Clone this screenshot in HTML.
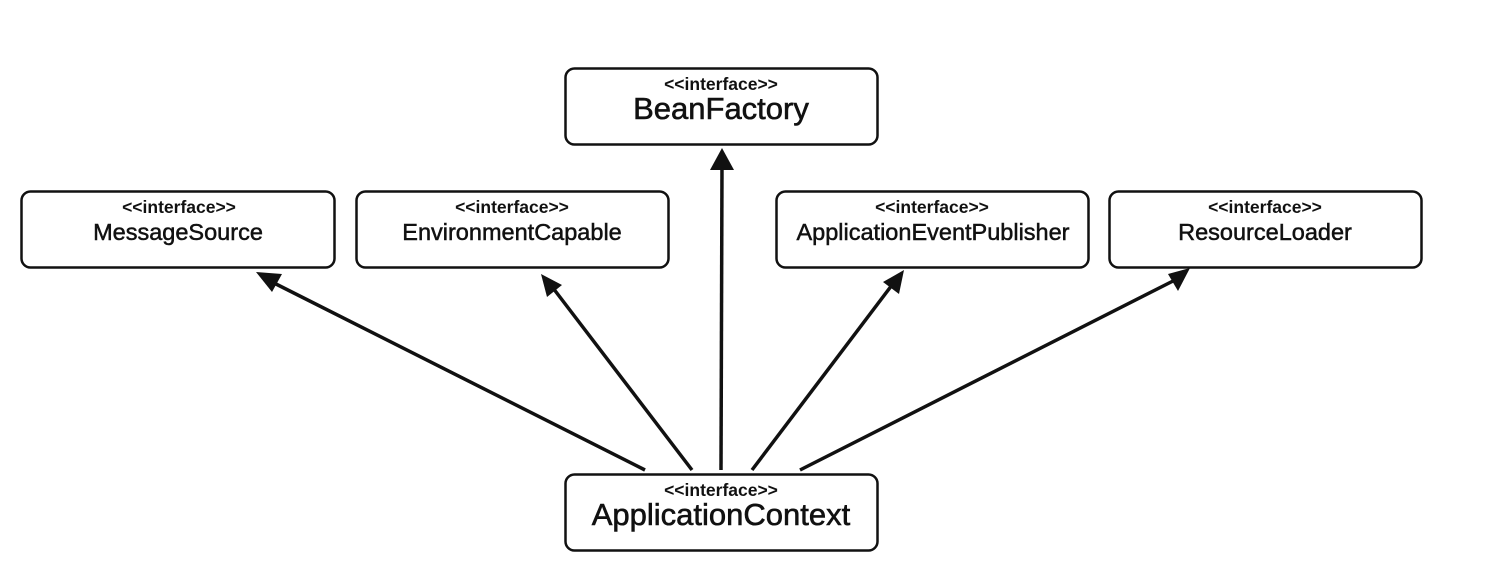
<!DOCTYPE html>
<html><head><meta charset="utf-8"><style>
html,body{margin:0;padding:0;background:#fff;}
svg{display:block;}
text{font-family:"Liberation Sans",Arial,sans-serif;fill:#111;text-anchor:middle;}
</style></head><body>
<svg width="1496" height="572" viewBox="0 0 1496 572" xmlns="http://www.w3.org/2000/svg">
<g fill="#fff" stroke="#111" stroke-width="2.5">
<rect x="565.5" y="68.5" width="312" height="76" rx="9"/>
<rect x="21.5" y="191.5" width="313" height="76" rx="9"/>
<rect x="356.5" y="191.5" width="312" height="76" rx="9"/>
<rect x="776.5" y="191.5" width="312" height="76" rx="9"/>
<rect x="1109.5" y="191.5" width="312" height="76" rx="9"/>
<rect x="565.5" y="474.5" width="312" height="76" rx="9"/>
</g>
<g font-weight="bold" font-size="17.5">
<text x="721" y="90">&lt;&lt;interface&gt;&gt;</text>
<text x="179" y="213">&lt;&lt;interface&gt;&gt;</text>
<text x="512" y="213">&lt;&lt;interface&gt;&gt;</text>
<text x="932" y="213">&lt;&lt;interface&gt;&gt;</text>
<text x="1265" y="213">&lt;&lt;interface&gt;&gt;</text>
<text x="721" y="496">&lt;&lt;interface&gt;&gt;</text>
</g>
<g font-size="31" stroke="#111" stroke-width="0.6">
<text x="721" y="119">BeanFactory</text>
<text x="721" y="525">ApplicationContext</text>
</g>
<g font-size="23.5" stroke="#111" stroke-width="0.5">
<text x="178" y="240">MessageSource</text>
<text x="512" y="240">EnvironmentCapable</text>
<text x="933" y="240">ApplicationEventPublisher</text>
<text x="1265" y="240">ResourceLoader</text>
</g>
<g stroke="#111" stroke-width="3.5" fill="none">
<line x1="645" y1="470" x2="272" y2="282"/>
<line x1="692" y1="470" x2="553" y2="288"/>
<line x1="721" y1="470" x2="722" y2="165"/>
<line x1="752" y1="470" x2="892" y2="285"/>
<line x1="800" y1="470" x2="1175" y2="280"/>
</g>
<g fill="#111">
<polygon points="722,148 710,170 734,170"/>
<polygon points="256,272 282,274 272,292" />
<polygon points="541,274 562,285 547,297"/>
<polygon points="904,270 899,294 883,282"/>
<polygon points="1190,268 1178,291 1168,274"/>
</g>
</svg>
</body></html>
